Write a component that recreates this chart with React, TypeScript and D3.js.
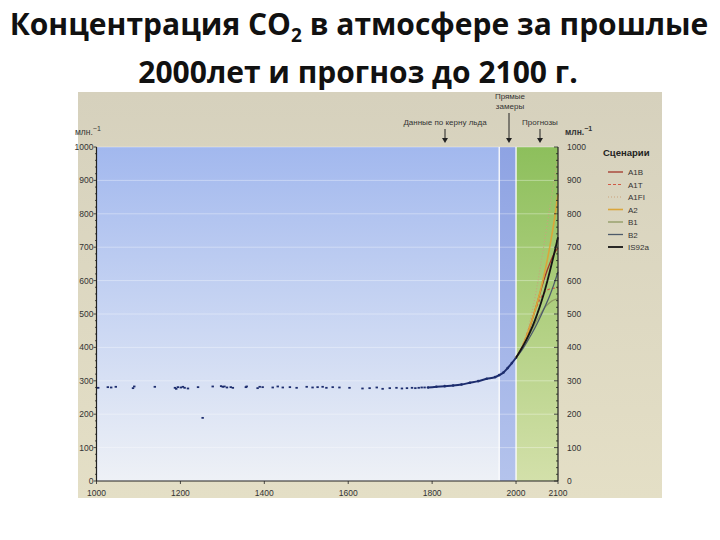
import React from "react";
import * as d3 from "d3";

const titleLine1 = "Концентрация CO";
const titleLine1b = "2";
const titleLine1c = " в атмосфере за прошлые";
const titleLine2 = "2000лет и прогноз до 2100 г.";

const xTicks = [1000, 1200, 1400, 1600, 1800, 2000, 2100];
const yTicks = [0, 100, 200, 300, 400, 500, 600, 700, 800, 900, 1000];

// Ice-core scattered samples [year, ppm]
const iceCore: [number, number][] = [
  [1004, 279], [1027, 281], [1035, 280], [1046, 282], [1087, 278], [1090, 283],
  [1139, 282], [1187, 279], [1190, 276], [1194, 281], [1201, 280], [1206, 282],
  [1210, 279], [1218, 277], [1242, 281], [1253, 189], [1277, 283], [1297, 284],
  [1301, 282], [1305, 283], [1311, 280], [1320, 281], [1325, 279], [1356, 281],
  [1358, 283], [1384, 278], [1389, 282], [1396, 281], [1420, 280], [1432, 283],
  [1444, 280], [1461, 281], [1477, 279], [1501, 282], [1515, 280], [1527, 281],
  [1539, 282], [1548, 279], [1563, 281], [1579, 280], [1603, 279], [1634, 277],
  [1651, 278], [1668, 280], [1682, 276], [1699, 278], [1715, 279], [1728, 277],
  [1740, 278], [1752, 279], [1760, 278], [1768, 279], [1775, 280], [1782, 280],
];

// Ice core + direct measurements (dense part) [year, ppm]
const recentYears = [1790, 1810, 1830, 1850, 1870, 1890, 1910, 1930, 1950, 1960, 1970, 1980, 1990, 2000];
const recentPpm = [280, 282, 284, 286, 289, 294, 299, 306, 311, 317, 325, 338, 353, 369];

// Projection scenarios, 2000-2100 every 10 years
const projYears = [2000, 2010, 2020, 2030, 2040, 2050, 2060, 2070, 2080, 2090, 2100];
const sA1B = [369, 389, 415, 448, 489, 532, 575, 616, 650, 679, 698];
const sA1T = [369, 391, 420, 455, 491, 524, 551, 567, 575, 577, 578];
const sA1FI = [369, 391, 420, 463, 517, 582, 656, 735, 815, 893, 970];
const sA2 = [369, 390, 417, 451, 490, 532, 580, 635, 698, 771, 860];
const sB1 = [369, 389, 411, 434, 458, 482, 503, 522, 534, 542, 545];
const sB2 = [369, 385, 404, 425, 447, 471, 497, 525, 554, 588, 626];
const sIS92a = [369, 390, 412, 437, 465, 498, 535, 577, 625, 676, 730];

const scenarioNames = ["A1B", "A1T", "A1FI", "A2", "B1", "B2", "IS92a"];
const scenarioValues = [sA1B, sA1T, sA1FI, sA2, sB1, sB2, sIS92a];
const scenarioColors = ["#a3352a", "#d05a45", "#c9a27c", "#dba63a", "#8e9a62", "#4d5a6a", "#151515"];
const scenarioDash = ["", "3,2", "1,2", "", "", "", ""];
const scenarioWidth = [1.3, 1.1, 1.1, 1.6, 1.3, 1.3, 1.8];

export default function App() {
  const x = d3.scaleLinear().domain([1000, 2100]).range([96.5, 558]);
  const y = d3.scaleLinear().domain([0, 1000]).range([481, 147]);
  const line = d3
    .line<[number, number]>()
    .x((d) => x(d[0]))
    .y((d) => y(d[1]))
    .curve(d3.curveMonotoneX);

  const recent: [number, number][] = recentYears.map((yr, i) => [yr, recentPpm[i]]);
  const minorTicks = d3.range(0, 1001, 20);
  const xL = x(1000), xR = x(2100), xIce = x(1960), xNow = x(2000);
  const yT = y(1000), yB = y(0);
  const font = "'Liberation Sans', Arial, sans-serif";

  return (
    <svg width={720} height={540} style={{ position: "absolute", left: 0, top: 0, background: "#fff" }}>
      <defs>
        <linearGradient id="bg" x1="0" y1="0" x2="0" y2="1">
          <stop offset="0%" stopColor="#d6d1bd" />
          <stop offset="100%" stopColor="#e4dfc6" />
        </linearGradient>
        <linearGradient id="blue" x1="0" y1="0" x2="0" y2="1">
          <stop offset="0%" stopColor="#a2b8ee" />
          <stop offset="55%" stopColor="#ccd8f3" />
          <stop offset="100%" stopColor="#eef1f6" />
        </linearGradient>
        <linearGradient id="blue2" x1="0" y1="0" x2="0" y2="1">
          <stop offset="0%" stopColor="#8ea3e3" />
          <stop offset="100%" stopColor="#b4c3ec" />
        </linearGradient>
        <linearGradient id="green" x1="0" y1="0" x2="0" y2="1">
          <stop offset="0%" stopColor="#8dbf5c" />
          <stop offset="55%" stopColor="#b3d184" />
          <stop offset="100%" stopColor="#d3e0aa" />
        </linearGradient>
      </defs>

      {/* Title */}
      <text x={359} y={35} textAnchor="middle" fontFamily="'Open Sans', sans-serif" fontWeight="bold" fontSize={30} fill="#111">
        {titleLine1}
        <tspan fontSize={19} dy={7}>{titleLine1b}</tspan>
        <tspan dy={-7}>{titleLine1c}</tspan>
      </text>
      <text x={358} y={83} textAnchor="middle" fontFamily="'Open Sans', sans-serif" fontWeight="bold" fontSize={30} fill="#111">
        {titleLine2}
      </text>

      {/* Photo background */}
      <rect x={78} y={92} width={584} height={406} fill="url(#bg)" />

      {/* Plot regions */}
      <rect x={xL} y={yT} width={xIce - xL} height={yB - yT} fill="url(#blue)" />
      <rect x={xIce} y={yT} width={xNow - xIce} height={yB - yT} fill="url(#blue2)" />
      <rect x={xNow} y={yT} width={xR - xNow} height={yB - yT} fill="url(#green)" />

      {/* faint grid */}
      {yTicks.slice(1).map((t) => (
        <line key={"g" + t} x1={xL} x2={xR} y1={y(t)} y2={y(t)} stroke="#fff" strokeOpacity={0.35} strokeWidth={1} />
      ))}
      <line x1={xIce} x2={xIce} y1={yT} y2={yB} stroke="#fff" strokeWidth={1.5} strokeOpacity={0.85} />
      <line x1={xNow} x2={xNow} y1={yT} y2={yB} stroke="#fff" strokeWidth={1.5} strokeOpacity={0.85} />

      {/* Ice core dots */}
      {iceCore.map((d, i) => (
        <rect key={"ic" + i} x={x(d[0]) - 1.2} y={y(d[1]) - 0.9} width={2.4} height={1.8} fill="#1d2d6e" />
      ))}
      <path d={line(recent) || ""} fill="none" stroke="#1d2d6e" strokeWidth={2} />
      {recent.map((d, i) => (
        <circle key={"rc" + i} cx={x(d[0])} cy={y(d[1])} r={1.3} fill="#1d2d6e" />
      ))}

      {/* Scenarios */}
      {scenarioValues.map((vals, k) => (
        <path
          key={"s" + k}
          d={line(projYears.map((yr, i) => [yr, vals[i]] as [number, number])) || ""}
          fill="none"
          stroke={scenarioColors[k]}
          strokeWidth={scenarioWidth[k]}
          strokeDasharray={scenarioDash[k]}
        />
      ))}

      {/* Left axis */}
      <line x1={xL} x2={xL} y1={yT} y2={yB} stroke="#222" strokeWidth={1.2} />
      {minorTicks.map((t) => (
        <line key={"lm" + t} x1={xL - (t % 100 === 0 ? 3 : 1.5)} x2={xL} y1={y(t)} y2={y(t)} stroke="#222" strokeWidth={0.8} />
      ))}
      {yTicks.map((t) => (
        <text key={"ly" + t} x={xL - 3} y={y(t) + 3} textAnchor="end" fontFamily={font} fontSize={8.5} fill="#333">
          {t}
        </text>
      ))}
      <text x={75} y={135} fontFamily={font} fontSize={8.5} fill="#333">
        млн.<tspan dy={-4} fontSize={7}>−1</tspan>
      </text>

      {/* Right axis */}
      <line x1={xR} x2={xR} y1={yT} y2={yB} stroke="#222" strokeWidth={1.2} />
      {minorTicks.map((t) => (
        <line key={"rm" + t} x1={xR - (t % 100 === 0 ? 4 : 2)} x2={xR} y1={y(t)} y2={y(t)} stroke="#222" strokeWidth={0.8} />
      ))}
      {yTicks.map((t) => (
        <text key={"ry" + t} x={xR + 9} y={y(t) + 3} textAnchor="start" fontFamily={font} fontSize={8.5} fill="#333">
          {t}
        </text>
      ))}
      <text x={565} y={135} fontFamily={font} fontSize={8.5} fontWeight="bold" fill="#333">
        млн.<tspan dy={-4} fontSize={7}>−1</tspan>
      </text>

      {/* Bottom axis */}
      <line x1={xL} x2={xR} y1={yB} y2={yB} stroke="#222" strokeWidth={1.2} />
      {xTicks.map((t) => (
        <g key={"xt" + t}>
          <line x1={x(t)} x2={x(t)} y1={yB} y2={yB + 3} stroke="#222" strokeWidth={0.8} />
          <text x={x(t)} y={yB + 15} textAnchor="middle" fontFamily={font} fontSize={8.5} fill="#333">
            {t}
          </text>
        </g>
      ))}

      {/* Annotations */}
      <text x={445} y={125} textAnchor="middle" fontFamily={font} fontSize={8} fill="#333">Данные по керну льда</text>
      <line x1={445} x2={445} y1={129} y2={141} stroke="#222" strokeWidth={1} />
      <path d="M442,138 L445,143 L448,138 Z" fill="#222" />
      <text x={510} y={99} textAnchor="middle" fontFamily={font} fontSize={8} fill="#333">Прямые</text>
      <text x={510} y={109} textAnchor="middle" fontFamily={font} fontSize={8} fill="#333">замеры</text>
      <line x1={509} x2={509} y1={113} y2={141} stroke="#222" strokeWidth={1} />
      <path d="M506,138 L509,143 L512,138 Z" fill="#222" />
      <text x={540} y={125} textAnchor="middle" fontFamily={font} fontSize={8} fill="#333">Прогнозы</text>
      <line x1={540} x2={540} y1={129} y2={141} stroke="#222" strokeWidth={1} />
      <path d="M537,138 L540,143 L543,138 Z" fill="#222" />

      {/* Legend */}
      <text x={603} y={156} fontFamily={font} fontSize={9.5} fontWeight="bold" fill="#222">Сценарии</text>
      {scenarioNames.map((n, k) => {
        const ly = 172 + k * 12.5;
        return (
          <g key={"lg" + n}>
            <line x1={608} x2={623} y1={ly} y2={ly} stroke={scenarioColors[k]} strokeWidth={scenarioWidth[k]} strokeDasharray={scenarioDash[k]} />
            <text x={628} y={ly + 3} fontFamily={font} fontSize={8} fill="#333">{n}</text>
          </g>
        );
      })}
    </svg>
  );
}
